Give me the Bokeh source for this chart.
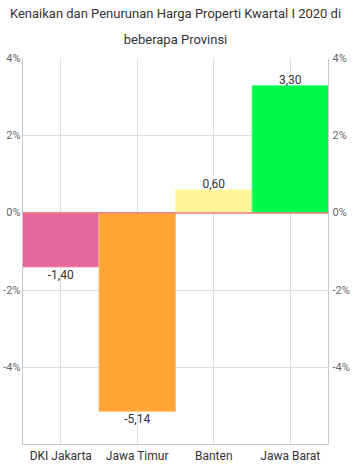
from bokeh.plotting import figure
from bokeh.models import ColumnDataSource, Range1d, FixedTicker, LinearAxis, Span, Title
from bokeh.embed import file_html
from bokeh.resources import INLINE
from bokeh.core.properties import value

title_lines = ["Kenaikan dan Penurunan Harga Properti Kwartal I 2020 di", "beberapa Provinsi"]
provinces = ["DKI Jakarta", "Jawa Timur", "Banten", "Jawa Barat"]
changes = [-1.40, -5.14, 0.60, 3.30]
colors = ["#e5689a", "#ffa437", "#fff59a", "#00fa4c"]
edge_colors = ["#f08cb4", "#ffc27a", "#fff8b8", "#60ff90"]
y_ticks = [-4, -2, 0, 2, 4]
y_tick_labels = {t: f"{t}%" for t in y_ticks}

labels = [f"{v:.2f}".replace(".", ",") for v in changes]

src = ColumnDataSource(dict(x=provinces, top=changes, color=colors, edge=edge_colors, label=labels))
src_pos = ColumnDataSource(dict(x=[p for p, v in zip(provinces, changes) if v >= 0],
                                y=[v for v in changes if v >= 0],
                                label=[l for l, v in zip(labels, changes) if v >= 0]))
src_neg = ColumnDataSource(dict(x=[p for p, v in zip(provinces, changes) if v < 0],
                                y=[v for v in changes if v < 0],
                                label=[l for l, v in zip(labels, changes) if v < 0]))

FONT = "Roboto"
p = figure(width=363, height=471, x_range=provinces, y_range=Range1d(-6, 4),
           output_backend="svg", toolbar_location=None, title=None,
           min_border_left=0, min_border_right=35, min_border_top=58, min_border_bottom=27)
p.outline_line_color = None

t2 = Title(text=title_lines[1], align="center", vertical_align="top", text_font=FONT,
           text_font_size="13px", text_font_style="normal", text_color="#333333",
           offset=0, standoff=19)
t1 = Title(text=title_lines[0], align="center", vertical_align="top", text_font=FONT,
           text_font_size="13px", text_font_style="normal", text_color="#333333",
           offset=0, standoff=0)
p.add_layout(t2, "above")
p.add_layout(t1, "above")

p.vbar(x="x", top="top", bottom=0, width=1.0, source=src, fill_color="color",
       line_color="edge", line_width=1)

p.add_layout(Span(location=0, dimension="width", line_color="#f07878", line_width=1.5))

p.text(x="x", y="y", text="label", source=src_pos, text_align="center", text_baseline="bottom",
       y_offset=-2, text_font=value(FONT), text_font_size="12px", text_color="#333333")
p.text(x="x", y="y", text="label", source=src_neg, text_align="center", text_baseline="top",
       y_offset=3, text_font=value(FONT), text_font_size="12px", text_color="#333333")

p.yaxis[0].ticker = FixedTicker(ticks=y_ticks)
p.yaxis[0].major_label_overrides = y_tick_labels

right = LinearAxis(ticker=FixedTicker(ticks=y_ticks), major_label_overrides=y_tick_labels)
p.add_layout(right, "right")

for ax in p.yaxis + p.xaxis:
    ax.axis_line_color = "#c8c8c8"
    ax.major_tick_line_color = None
    ax.minor_tick_line_color = None
    ax.major_tick_out = 0
    ax.major_tick_in = 0
    ax.minor_tick_out = 0
    ax.major_label_text_font = FONT
    ax.major_label_standoff = 4

for ax in p.yaxis:
    ax.major_label_text_font_size = "11px"
    ax.major_label_text_color = "#666666"
p.yaxis[0].major_label_standoff = 2

p.xaxis.major_label_text_font_size = "12px"
p.xaxis.major_label_text_color = "#333333"
p.xaxis.major_label_standoff = 4

p.ygrid.ticker = FixedTicker(ticks=y_ticks)
p.ygrid.grid_line_color = "#dddddd"
p.xgrid.grid_line_color = "#dddddd"

open("out.html", "w").write(file_html(p, INLINE))
